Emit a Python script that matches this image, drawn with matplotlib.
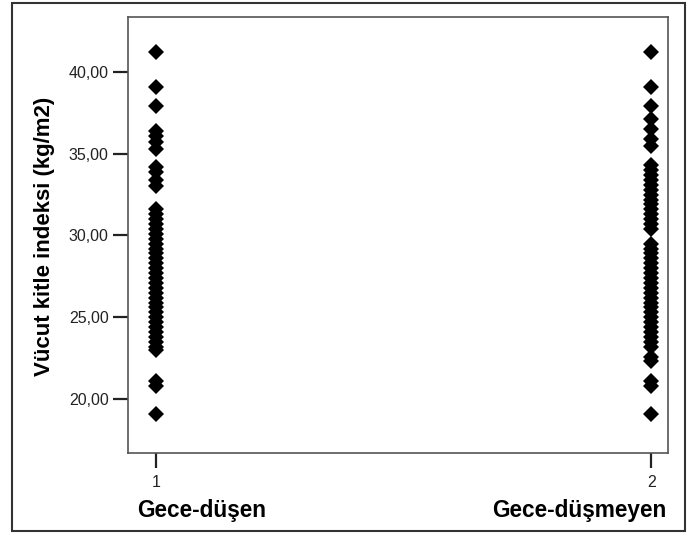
import numpy as np
import matplotlib
matplotlib.use('Agg')
import matplotlib.pyplot as plt
from matplotlib.patches import Rectangle

plt.rcParams['font.family'] = ['Liberation Sans', 'DejaVu Sans']

# BMI values per group
bmi_dusen = [41.2, 39.1, 37.9, 36.4, 36.1, 35.7, 35.3, 34.2, 33.9, 33.4, 33.0,
             31.6, 31.3, 31.0, 30.7, 30.4, 30.1, 29.8, 29.5, 29.2, 28.9, 28.6,
             28.3, 28.0, 27.7, 27.4, 27.1, 26.8, 26.5, 26.2, 25.9, 25.6, 25.3,
             25.0, 24.7, 24.4, 24.1, 23.8, 23.5, 23.2, 23.0, 21.1, 20.8, 19.1]
bmi_dusmeyen = [41.2, 39.1, 37.9, 37.1, 36.5, 35.9, 35.5, 34.3, 34.0, 33.7, 33.4,
                33.1, 32.8, 32.5, 32.2, 31.9, 31.6, 31.3, 31.0, 30.7, 30.4, 29.5,
                29.2, 28.9, 28.6, 28.3, 28.0, 27.7, 27.4, 27.1, 26.8, 26.5, 26.2,
                25.9, 25.6, 25.3, 25.0, 24.7, 24.4, 24.1, 23.8, 23.5, 23.2, 22.6,
                22.3, 21.1, 20.8, 19.1]
group_codes = [1, 2]
group_names = ['Gece-düşen', 'Gece-düşmeyen']
y_ticks = [20, 25, 30, 35, 40]
y_tick_labels = ['20,00', '25,00', '30,00', '35,00', '40,00']

fig = plt.figure(figsize=(6.96, 5.45), dpi=100)
ax = fig.add_axes([128 / 696, 1 - 453 / 545, 540 / 696, 436 / 545])

for code, vals in zip(group_codes, [bmi_dusen, bmi_dusmeyen]):
    ax.plot(np.full(len(vals), code), vals, linestyle='none', marker='D',
            ms=8, color='black', markeredgewidth=0)

ax.set_xlim(0.943, 2.034)
ax.set_ylim(16.7, 43.36)
ax.set_xticks(group_codes)
ax.set_xticklabels([str(c) for c in group_codes])
ax.set_yticks(y_ticks)
ax.set_yticklabels(y_tick_labels)
ax.tick_params(direction='out', length=11, width=1.6, colors='#222222',
               labelsize=11.5, pad=3)
ax.tick_params(axis='x', pad=5)
for sp in ax.spines.values():
    sp.set_color('#555555')
    sp.set_linewidth(1.2)

fig.text(45 / 696, 1 - 236 / 545, 'Vücut kitle indeksi (kg/m2)', fontsize=16,
         fontweight='bold', rotation=90, ha='center', va='center')

fig.text(137 / 696, 1 - 511 / 545, group_names[0], fontsize=16.3,
         fontweight='bold', ha='left', va='center')
fig.text(666 / 696, 1 - 511 / 545, group_names[1], fontsize=16.3,
         fontweight='bold', ha='right', va='center')

# outer frame
fig.patches.append(Rectangle((12 / 696, 1 - 531 / 545), 673 / 696, 528 / 545,
                             transform=fig.transFigure, fill=False,
                             edgecolor='#333333', linewidth=1.5))

fig.savefig('out.png', dpi=100)
